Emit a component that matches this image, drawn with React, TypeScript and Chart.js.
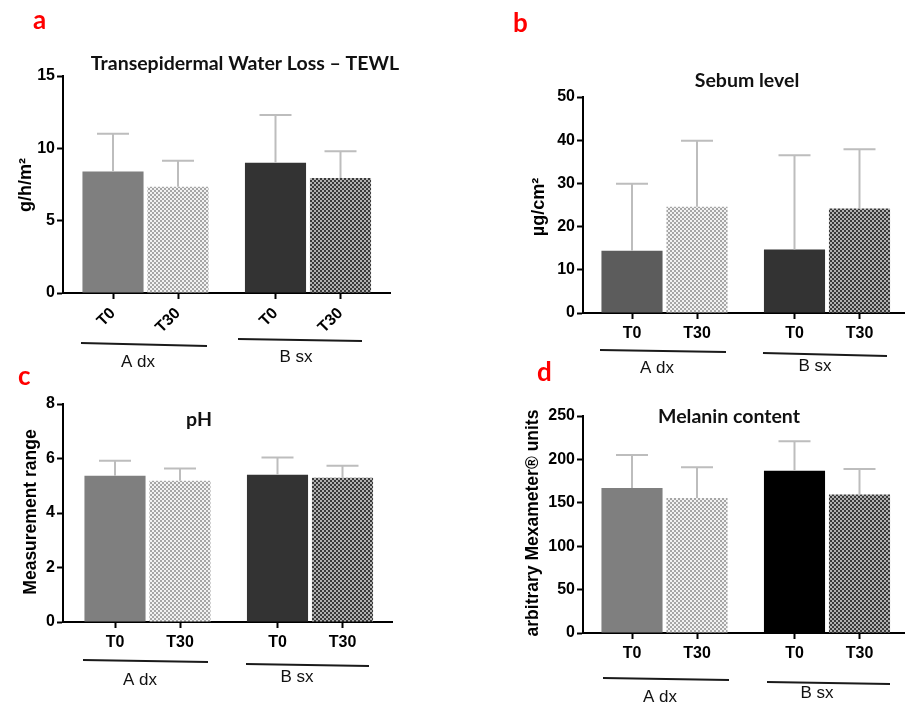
import { useEffect, useRef } from "react";
import { Chart, registerables } from "chart.js";

Chart.register(...registerables);

const W = 905;
const H = 704;

// ---------- data ----------
const xLabels = ["T0", "T30", "T0", "T30"];
const groupLabels = ["A dx", "B sx"];
const barPositions = [0, 1, 2.5, 3.5];

const tewlMean = [8.4, 7.35, 9.0, 7.95];
const tewlSd = [2.6, 1.8, 3.3, 1.85];

const sebumMean = [14.4, 24.6, 14.7, 24.2];
const sebumSd = [15.5, 15.3, 21.8, 13.7];

const phMean = [5.37, 5.18, 5.4, 5.29];
const phSd = [0.55, 0.45, 0.64, 0.44];

const melaninMean = [167, 155.5, 187, 159.5];
const melaninSd = [38, 35.5, 34, 29.5];

const yTicksTewl = { max: 15, step: 5 };
const yTicksSebum = { max: 50, step: 10 };
const yTicksPh = { max: 8, step: 2 };
const yTicksMelanin = { max: 250, step: 50 };

// ---------- layout ----------
const UNIT = 65; // px per x unit
const Y_AXIS_W = 60;
const X_AXIS_H = 40;
const SANS = "'Liberation Sans', Arial, sans-serif";

type Panel = {
  letter: string;
  letterPos: [number, number];
  title: string;
  titlePos: [number, number];
  yTitle: string;
  yTitlePos: [number, number];
  yTitleSize: number;
  yMax: number;
  yStep: number;
  means: number[];
  sds: number[];
  area: { left: number; right: number; top: number; bottom: number };
  firstTick: number;
  rotate: boolean;
  t0a: string;
  t0b: string;
  groupText: [number, number][];
  groupLines: [number, number, number, number][];
};

const panels: Panel[] = [
  {
    letter: "a",
    letterPos: [33, 29],
    title: "Transepidermal Water Loss – TEWL",
    titlePos: [245, 70],
    yTitle: "g/h/m²",
    yTitlePos: [26, 185],
    yTitleSize: 18,
    yMax: yTicksTewl.max,
    yStep: yTicksTewl.step,
    means: tewlMean,
    sds: tewlSd,
    area: { left: 63, right: 390, top: 76, bottom: 293 },
    firstTick: 113,
    rotate: true,
    t0a: "#7f7f7f",
    t0b: "#333333",
    groupText: [
      [138, 367],
      [296, 362],
    ],
    groupLines: [
      [81, 343, 207, 346],
      [238, 339, 362, 341],
    ],
  },
  {
    letter: "b",
    letterPos: [513, 32],
    title: "Sebum level",
    titlePos: [747, 87],
    yTitle: "µg/cm²",
    yTitlePos: [539, 207],
    yTitleSize: 18,
    yMax: yTicksSebum.max,
    yStep: yTicksSebum.step,
    means: sebumMean,
    sds: sebumSd,
    area: { left: 583, right: 905, top: 97, bottom: 313 },
    firstTick: 632,
    rotate: false,
    t0a: "#5c5c5c",
    t0b: "#333333",
    groupText: [
      [657, 373],
      [815, 371],
    ],
    groupLines: [
      [600, 350, 726, 352],
      [763, 353, 887, 356],
    ],
  },
  {
    letter: "c",
    letterPos: [18, 385],
    title: "pH",
    titlePos: [199, 426],
    yTitle: "Measurement range",
    yTitlePos: [31, 512],
    yTitleSize: 17.5,
    yMax: yTicksPh.max,
    yStep: yTicksPh.step,
    means: phMean,
    sds: phSd,
    area: { left: 63, right: 392, top: 404, bottom: 622 },
    firstTick: 115,
    rotate: false,
    t0a: "#7f7f7f",
    t0b: "#333333",
    groupText: [
      [140, 685],
      [297, 682],
    ],
    groupLines: [
      [83, 660, 208, 662],
      [246, 664, 369, 666],
    ],
  },
  {
    letter: "d",
    letterPos: [537, 381],
    title: "Melanin content",
    titlePos: [729, 423],
    yTitle: "arbitrary Mexameter® units",
    yTitlePos: [533, 523],
    yTitleSize: 17.5,
    yMax: yTicksMelanin.max,
    yStep: yTicksMelanin.step,
    means: melaninMean,
    sds: melaninSd,
    area: { left: 583, right: 905, top: 416, bottom: 633 },
    firstTick: 632,
    rotate: false,
    t0a: "#7f7f7f",
    t0b: "#000000",
    groupText: [
      [660, 702],
      [817, 698],
    ],
    groupLines: [
      [603, 678, 729, 680],
      [767, 682, 890, 684],
    ],
  },
];

function makeChecker(c1: string, c2: string, cell = 2): CanvasPattern | string {
  const c = document.createElement("canvas");
  c.width = cell * 2;
  c.height = cell * 2;
  const g = c.getContext("2d");
  if (!g) return c1;
  g.fillStyle = c1;
  g.fillRect(0, 0, cell * 2, cell * 2);
  g.fillStyle = c2;
  g.fillRect(0, 0, cell, cell);
  g.fillRect(cell, cell, cell, cell);
  const pat = g.createPattern(c, "repeat");
  return pat || c1;
}

function makeErrorBars(p: Panel) {
  return {
    id: "errorBars",
    afterDatasetsDraw(chart: any) {
      const ctx = chart.ctx as CanvasRenderingContext2D;
      const y = chart.scales.y;
      const meta = chart.getDatasetMeta(0);
      ctx.save();
      ctx.strokeStyle = "#bdbdbd";
      ctx.lineWidth = 2;
      meta.data.forEach((bar: any, i: number) => {
        const yBar = y.getPixelForValue(p.means[i]);
        const yTop = y.getPixelForValue(p.means[i] + p.sds[i]);
        ctx.beginPath();
        ctx.moveTo(bar.x, yBar);
        ctx.lineTo(bar.x, yTop);
        ctx.moveTo(bar.x - 16, yTop);
        ctx.lineTo(bar.x + 16, yTop);
        ctx.stroke();
      });
      ctx.restore();
    },
  };
}

function makeDecor(p: Panel) {
  return {
    id: "decor",
    afterDraw(chart: any) {
      const ctx = chart.ctx as CanvasRenderingContext2D;
      ctx.save();
      // panel letter
      ctx.fillStyle = "#ff0000";
      ctx.font = "bold 26px Lato, sans-serif";
      ctx.textAlign = "left";
      ctx.textBaseline = "alphabetic";
      ctx.fillText(p.letter, p.letterPos[0], p.letterPos[1]);
      // title
      ctx.fillStyle = "#111";
      ctx.font = "bold 19.5px Lato, sans-serif";
      ctx.textAlign = "center";
      ctx.fillText(p.title, p.titlePos[0], p.titlePos[1]);
      // y title
      ctx.save();
      ctx.translate(p.yTitlePos[0], p.yTitlePos[1]);
      ctx.rotate(-Math.PI / 2);
      ctx.font = `bold ${p.yTitleSize}px ${SANS}`;
      ctx.fillStyle = "#000";
      ctx.textAlign = "center";
      ctx.textBaseline = "middle";
      ctx.fillText(p.yTitle, 0, 0);
      ctx.restore();
      // group lines
      ctx.strokeStyle = "#1a1a1a";
      ctx.lineWidth = 2;
      p.groupLines.forEach(([x1, y1, x2, y2]) => {
        ctx.beginPath();
        ctx.moveTo(x1, y1);
        ctx.lineTo(x2, y2);
        ctx.stroke();
      });
      // group labels
      ctx.fillStyle = "#111";
      ctx.font = `17px ${SANS}`;
      ctx.textAlign = "center";
      ctx.textBaseline = "alphabetic";
      groupLabels.forEach((g, i) => {
        ctx.fillText(g, p.groupText[i][0], p.groupText[i][1]);
      });
      ctx.restore();
    },
  };
}

function buildConfig(p: Panel, light: any, dark: any): any {
  const xMin = (p.area.left - p.firstTick) / UNIT;
  const xMax = (p.area.right - p.firstTick) / UNIT;
  const tickFont = { family: SANS, size: 16, weight: "bold" };
  const rot = p.rotate ? 45 : 0;
  return {
    type: "bar",
    data: {
      datasets: [
        {
          data: barPositions.map((x, i) => ({ x, y: p.means[i] })),
          backgroundColor: [p.t0a, light, p.t0b, dark],
          borderWidth: 0,
          barPercentage: 0.94,
          categoryPercentage: 1,
        },
      ],
    },
    options: {
      animation: false,
      responsive: false,
      maintainAspectRatio: false,
      events: [],
      layout: {
        padding: {
          left: p.area.left - Y_AXIS_W,
          top: p.area.top,
          right: W - p.area.right,
          bottom: H - p.area.bottom - X_AXIS_H,
        },
      },
      plugins: {
        legend: { display: false },
        tooltip: { enabled: false },
        title: { display: false },
      },
      scales: {
        x: {
          type: "linear",
          bounds: "data",
          min: xMin,
          max: xMax,
          offset: false,
          z: 1,
          afterBuildTicks: (s: any) => {
            s.ticks = barPositions.map((v) => ({ value: v }));
          },
          afterFit: (s: any) => {
            s.height = X_AXIS_H;
          },
          ticks: {
            callback: (_v: any, i: number) => xLabels[i],
            font: tickFont,
            color: "#000",
            padding: 5,
            minRotation: rot,
            maxRotation: rot,
            autoSkip: false,
          },
          grid: {
            display: true,
            drawOnChartArea: false,
            drawTicks: true,
            tickLength: 6,
            tickWidth: 2,
            tickColor: "#000",
            offset: false,
          },
          border: { display: true, color: "#000", width: 2 },
        },
        y: {
          type: "linear",
          min: 0,
          max: p.yMax,
          z: 1,
          afterFit: (s: any) => {
            s.width = Y_AXIS_W;
          },
          ticks: { stepSize: p.yStep, font: tickFont, color: "#000", padding: 2 },
          grid: {
            drawOnChartArea: false,
            drawTicks: true,
            tickLength: 6,
            tickWidth: 2,
            tickColor: "#000",
          },
          border: { display: true, color: "#000", width: 2 },
        },
      },
    },
    plugins: [makeErrorBars(p), makeDecor(p)],
  };
}

export default function App() {
  const refs = useRef<(HTMLCanvasElement | null)[]>([]);

  useEffect(() => {
    const light = makeChecker("#f2f2f2", "#a6a6a6");
    const dark = makeChecker("#3a3a3a", "#b2b2b2");
    const charts: Chart[] = [];
    panels.forEach((p, i) => {
      const cv = refs.current[i];
      if (cv) charts.push(new Chart(cv, buildConfig(p, light, dark)));
    });
    return () => charts.forEach((c) => c.destroy());
  }, []);

  return (
    <div
      style={{
        position: "fixed",
        left: 0,
        top: 0,
        width: W,
        height: H,
        background: "#fff",
        overflow: "hidden",
      }}
    >
      {panels.map((p, i) => (
        <canvas
          key={p.letter}
          ref={(el) => {
            refs.current[i] = el;
          }}
          width={W}
          height={H}
          style={{ position: "absolute", left: 0, top: 0 }}
        />
      ))}
    </div>
  );
}
